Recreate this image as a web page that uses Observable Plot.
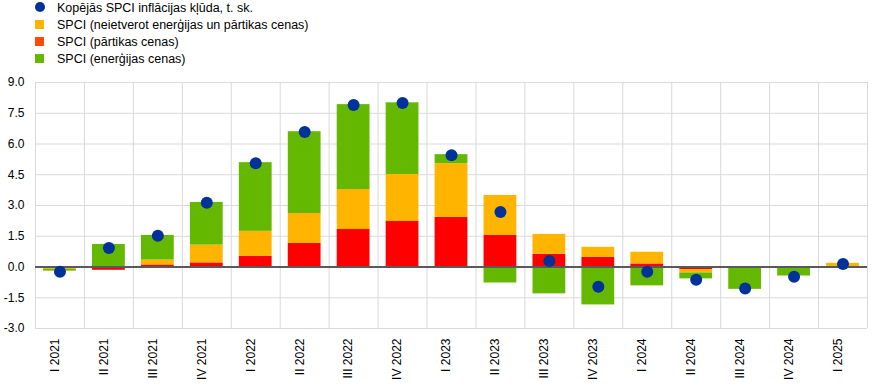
<!DOCTYPE html>
<html>
<head>
<meta charset="utf-8">
<script src="https://cdn.jsdelivr.net/npm/d3@7"></script>
<script src="https://cdn.jsdelivr.net/npm/@observablehq/plot@0.6"></script>
<style>
  html, body { margin: 0; padding: 0; background: #fff; }
  body { width: 874px; height: 390px; overflow: hidden; font-family: "Liberation Sans", Arial, sans-serif; }
  #legend { position: relative; height: 70px; font-size: 12.5px; color: #000; }
  .item { position: absolute; left: 35px; height: 14px; line-height: 14px; white-space: nowrap; }
  .sw { position: absolute; left: 0; top: 2px; width: 9px; height: 9px; }
  .dot { border-radius: 50%; width: 10px; height: 10px; top: 1px; }
  .lbl { position: absolute; left: 22px; top: 0; }
</style>
</head>
<body>
<div id="legend"></div>
<div id="chart"></div>
<script>
const quarters = ["I 2021","II 2021","III 2021","IV 2021","I 2022","II 2022","III 2022","IV 2022","I 2023","II 2023","III 2023","IV 2023","I 2024","II 2024","III 2024","IV 2024","I 2025"];
const food   = [-0.06, -0.16, 0.10, 0.20, 0.52, 1.15, 1.83, 2.22, 2.42, 1.54, 0.62, 0.47, 0.15, -0.13, 0.00, 0.00, 0.00];
const core   = [-0.06,  0.00, 0.24, 0.87, 1.22, 1.46, 1.95, 2.29, 2.62, 1.95, 0.97, 0.49, 0.57, -0.16, 0.00, 0.00, 0.18];
const energy = [-0.08,  1.10, 1.20, 2.08, 3.35, 3.99, 4.14, 3.50, 0.44, -0.78, -1.31, -1.85, -0.92, -0.29, -1.09, -0.44, 0.00];
const total  = [-0.23,  0.93, 1.53, 3.13, 5.06, 6.58, 7.90, 8.00, 5.45, 2.68, 0.29, -0.96, -0.23, -0.62, -1.05, -0.47, 0.15];
const yTicks = [-3, -1.5, 0, 1.5, 3, 4.5, 6, 7.5, 9];

const seriesNames = ["SPCI (pārtikas cenas)", "SPCI (neietverot enerģijas un pārtikas cenas)", "SPCI (enerģijas cenas)"];
const seriesColors = ["#ff0000", "#ffb400", "#65b800"];
const totalName = "Kopējās SPCI inflācijas kļūda, t. sk.";

// Legend
const legendItems = [
  {label: totalName, color: "#003299", dot: true},
  {label: seriesNames[1], color: "#ffb400"},
  {label: seriesNames[0], color: "#ff4b00"},
  {label: seriesNames[2], color: "#65b800"}
];
const legend = document.getElementById("legend");
legendItems.forEach((d, i) => {
  const it = document.createElement("div");
  it.className = "item";
  it.style.top = (1 + i * 17) + "px";
  const sw = document.createElement("div");
  sw.className = "sw" + (d.dot ? " dot" : "");
  sw.style.background = d.color;
  const lb = document.createElement("div");
  lb.className = "lbl";
  lb.textContent = d.label;
  it.appendChild(sw); it.appendChild(lb);
  legend.appendChild(it);
});

const rows = [];
quarters.forEach((q, i) => {
  rows.push({q, series: seriesNames[0], v: food[i]});
  rows.push({q, series: seriesNames[1], v: core[i]});
  rows.push({q, series: seriesNames[2], v: energy[i]});
});
const totals = quarters.map((q, i) => ({q, v: total[i]}));

const W = 874, ML = 35, MR = 7;
const step = (W - ML - MR) / quarters.length;

const chart = Plot.plot({
  width: W,
  height: 320,
  marginTop: 12,
  marginBottom: 62,
  marginLeft: ML,
  marginRight: MR,
  style: {fontFamily: "'Liberation Sans', Arial, sans-serif", fontSize: "12px", color: "#000", background: "#fff"},
  x: {domain: quarters, paddingInner: 0.33, paddingOuter: 0.165, round: false, label: null},
  y: {domain: [-3, 9], label: null},
  color: {domain: seriesNames, range: seriesColors},
  marks: [
    Plot.ruleY(yTicks, {stroke: "#d9d9d9", strokeWidth: 1}),
    Plot.ruleX(quarters, {x: d => d, dx: -step / 2, stroke: "#d9d9d9", strokeWidth: 1}),
    Plot.ruleX([quarters[quarters.length - 1]], {x: d => d, dx: step / 2, stroke: "#d9d9d9", strokeWidth: 1}),
    Plot.barY(rows, Plot.stackY({x: "q", y: "v", fill: "series", order: null})),
    Plot.ruleY([0], {stroke: "#595959", strokeWidth: 2}),
    Plot.dot(totals, {x: "q", y: "v", r: 6, fill: "#003299", stroke: "none"}),
    Plot.axisY({ticks: yTicks, tickSize: 0, tickPadding: 11, tickFormat: d => d.toFixed(1), fontSize: 12}),
    Plot.axisX({tickSize: 0, tickRotate: -90, tickPadding: 10, dx: -5, fontSize: 12})
  ]
});
document.getElementById("chart").appendChild(chart);
</script>
</body>
</html>
